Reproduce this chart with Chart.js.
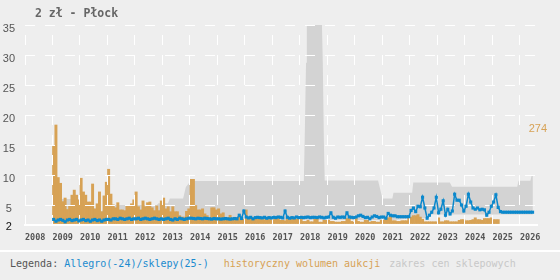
<!DOCTYPE html>
<html lang="pl">
<head>
<meta charset="utf-8">
<title>2 zł - Płock</title>
<script src="https://cdn.jsdelivr.net/npm/chart.js@4.4.1/dist/chart.umd.min.js"></script>
<style>
  html, body { margin: 0; padding: 0; background: #eeeeee; }
  #wrap { position: relative; width: 560px; height: 280px; overflow: hidden; }
  #title {
    position: absolute; left: 35px; top: 6px; line-height: 12px;
    font: bold 11.5px "DejaVu Sans Mono", monospace; color: #666;
  }
  #chartBox { position: absolute; left: 0; top: 0; width: 560px; height: 250px; }
  #legend {
    position: absolute; left: 0; top: 250px; width: 560px; height: 30px;
    border-top: 2px solid #fff; box-sizing: border-box;
    padding: 6px 0 0 10px; line-height: 16px;
    font: 10px "DejaVu Sans Mono", monospace; white-space: pre;
  }
  #legend .lab { color: #555; }
  #legend .allegro { color: #1b8bcf; }
  #legend .vol { color: #d7a255; margin-left: 15px; }
  #legend .shop { color: #c8c8c8; margin-left: 9px; }
</style>
</head>
<body>
<div id="wrap">
  <div id="chartBox"><canvas id="priceChart" width="560" height="250"></canvas></div>
  <div id="title">2 zł - Płock</div>
  <div id="legend"><span class="lab">Legenda: </span><span class="allegro">Allegro(-24)/sklepy(25-)</span><span class="vol">historyczny wolumen aukcji</span><span class="shop">zakres cen sklepowych</span></div>
</div>
<script>
const BLUE = "#0b88cc";
const ORANGE = "#d7a255";
const GRAY = "#d3d3d3";

const yearTicks = [2008, 2009, 2010, 2011, 2012, 2013, 2014, 2015, 2016, 2017,
  2018, 2019, 2020, 2021, 2022, 2023, 2024, 2025, 2026];
const priceTicks = [2, 5, 10, 15, 20, 25, 30, 35];

// monthly values, first month = January 2009
const monthlyStart = 2009;

// Allegro price (zł), Jan 2009 - Jun 2026
const allegroPrice = [
  2.6, 2.3, 2.5, 2.6, 2.45, 2.2, 2.5, 2.6, 2.4, 2.5, 2.6, 2.35,
  2.5, 2.6, 2.4, 2.5, 2.3, 2.5, 2.6, 2.4, 2.5, 2.3, 2.5, 2.6,
  2.6, 2.5, 2.7, 2.7, 2.6, 2.8, 2.7, 2.6, 2.7, 2.8, 2.6, 2.7,
  2.7, 2.8, 2.6, 2.7, 2.8, 2.7, 2.6, 2.7, 2.8, 2.7, 2.6, 2.7,
  2.6, 2.7, 2.8, 2.6, 2.5, 2.7, 2.6, 2.8, 2.7, 2.6, 2.7, 2.8,
  2.8, 2.75, 2.7, 2.8, 2.75, 2.7, 2.8, 2.75, 2.7, 2.65, 2.75, 2.7,
  2.7, 2.65, 2.7, 2.75, 2.7, 2.65, 2.7, 2.75, 2.7, 3.3, 2.75, 4.0,
  3.0, 2.85, 2.95, 2.7, 2.9, 2.95, 2.9, 2.85, 2.95, 2.8, 2.9, 2.85,
  2.95, 2.9, 3.0, 2.95, 2.85, 4.0, 2.95, 2.8, 2.9, 2.85, 3.0, 2.9,
  2.95, 2.9, 2.95, 3.0, 2.9, 2.95, 2.95, 2.9, 3.0, 2.95, 2.85, 2.95,
  3.0, 3.7, 2.95, 2.8, 3.0, 2.95, 3.0, 2.95, 3.7, 3.0, 2.95, 2.9,
  3.0, 3.2, 3.3, 3.1, 2.9, 2.95, 2.7, 3.0, 3.2, 3.1, 2.9, 3.0,
  3.0, 2.8, 3.6, 3.3, 3.2, 3.2, 3.05, 3.05, 3.05, 3.05, 3.05, 3.05,
  4.1, 4.5, 3.9, 4.8, 4.7, 6.3, 4.5, 2.8, 3.3, 3.8, 4.5, 6.3,
  3.7, 4.3, 5.7, 3.3, 4.3, 3.5, 4.0, 6.8, 5.8, 5.8, 5.0, 4.0,
  4.8, 6.8, 5.5, 4.5, 4.3, 4.5, 4.2, 4.3, 4.2, 3.3, 3.8, 4.8,
  5.5, 6.7, 4.6, 3.9, 3.8, 3.8, 3.8, 3.8, 3.8, 3.8, 3.8, 3.8,
  3.8, 3.8, 3.8, 3.8, 3.8, 3.8,
];

// auction volume per month, Jan 2009 - Mar 2025
const auctionVolume = [
  216, 274, 128, 112, 61, 71, 39, 50, 79, 93, 79, 66,
  126, 88, 79, 60, 60, 110, 41, 55, 88, 33, 77, 115,
  151, 82, 52, 44, 58, 38, 38, 36, 49, 49, 55, 66,
  88, 47, 38, 63, 47, 58, 60, 44, 36, 49, 36, 63,
  71, 41, 47, 33, 47, 33, 33, 22, 18, 18, 34, 41,
  123, 123, 50, 38, 38, 41, 27, 22, 16, 44, 44, 38,
  41, 27, 30, 16, 16, 23, 14, 16, 16, 19, 19, 12,
  38, 19, 19, 11, 14, 14, 14, 11, 11, 11, 11, 11,
  11, 14, 14, 9, 9, 8, 14, 9, 12, 12, 12, 12,
  12, 6, 6, 9, 5, 5, 12, 12, 4, 4, 9, 9,
  9, 6, 6, 4, 4, 4, 6, 6, 14, 14, 6, 4,
  14, 6, 4, 4, 9, 9, 4, 6, 6, 4, 4, 9,
  9, 16, 16, 22, 8, 8, 6, 6, 8, 8, 8, 16,
  18, 22, 22, 25, 18, 12, 5, 5, 5, 5, 5, 5,
  16, 5, 5, 8, 8, 5, 5, 5, 5, 9, 11, 11,
  8, 8, 9, 11, 16, 11, 11, 9, 14, 14, 14, 16,
  11, 11, 11,
];

// shop price range (zł): break points of the band
const shopYears = [2009.33, 2009.72, 2009.76, 2010.55, 2010.6, 2010.95, 2011.0, 2012.8,
  2012.85, 2013.2, 2013.27, 2013.75, 2013.85, 2013.95, 2014.05, 2018.14, 2018.17, 2018.22,
  2018.25, 2018.8, 2018.83, 2018.87, 2018.9, 2020.84, 2021.0, 2021.36, 2021.4, 2022.08,
  2022.12, 2022.6, 2022.65, 2023.45, 2023.53, 2025.9, 2025.95, 2026.38, 2026.43, 2026.47];
const shopLow = [2.4, 2.4, 2.4, 2.4, 2.4, 2.4, 2.4, 2.4,
  2.4, 2.4, 2.4, 2.5, 2.5, 2.5, 2.5, 2.5, 2.5, 2.5,
  2.5, 2.5, 2.5, 2.5, 2.5, 2.5, 2.5, 2.5, 2.5, 2.8,
  2.8, 2.8, 3.4, 3.4, 3.4, 3.4, 3.4, 3.4, 3.4, 3.4];
const shopHigh = [6.0, 6.0, 4.4, 4.4, 3.8, 4.2, 5.0, 5.0,
  5.3, 5.3, 6.1, 6.1, 8.0, 8.6, 9.0, 9.0, 15.5, 28.7,
  35, 35, 28.7, 15.5, 9.1, 9.1, 6.1, 6.1, 7.05, 7.05,
  8.75, 8.75, 8.75, 8.75, 8.05, 8.05, 9.05, 9.05, 10, 10];

const maxVolume = Math.max(...auctionVolume);

function monthX(i) {
  return monthlyStart + (i + 0.5) / 12;
}

const allegroPoints = allegroPrice.map((y, i) => ({ x: monthX(i), y }));
const volumePoints = auctionVolume.map((y, i) => ({ x: monthX(i), y }));
const shopLowPoints = shopYears.map((x, i) => ({ x, y: shopLow[i] }));
const shopHighPoints = shopYears.map((x, i) => ({ x, y: shopHigh[i] }));

// line above the white grid, plus the max volume label
const lineOnTop = {
  id: "lineOnTop",
  beforeDatasetDraw(chart, args) {
    if (args.index === 0) return false;
  },
  afterDraw(chart) {
    const { ctx, chartArea } = chart;
    ctx.save();
    ctx.beginPath();
    ctx.rect(chartArea.left, chartArea.top - 3, chartArea.width + 3, chartArea.height + 6);
    ctx.clip();
    chart.getDatasetMeta(0).controller.draw();
    ctx.restore();

    const yv = chart.scales.yv;
    ctx.save();
    ctx.fillStyle = ORANGE;
    ctx.font = "11px 'Liberation Sans', sans-serif";
    ctx.textAlign = "right";
    ctx.textBaseline = "middle";
    ctx.fillText(String(maxVolume), chartArea.right + 10, yv.getPixelForValue(maxVolume) + 4);
    ctx.restore();
  },
};

new Chart(document.getElementById("priceChart"), {
  type: "bar",
  data: {
    datasets: [
      {
        type: "line",
        data: allegroPoints,
        yAxisID: "y",
        borderColor: BLUE,
        borderWidth: 1.5,
        pointStyle: "rect",
        pointRadius: 2.2,
        pointBackgroundColor: BLUE,
        pointBorderWidth: 0,
        fill: false,
      },
      {
        type: "bar",
        data: volumePoints,
        yAxisID: "yv",
        backgroundColor: ORANGE,
        borderWidth: 0,
        barThickness: "flex",
        barPercentage: 1,
        categoryPercentage: 1,
      },
      {
        type: "line",
        data: shopLowPoints,
        yAxisID: "y",
        borderColor: "rgba(0,0,0,0)",
        borderWidth: 0,
        pointRadius: 0,
        fill: false,
      },
      {
        type: "line",
        data: shopHighPoints,
        yAxisID: "y",
        borderColor: "rgba(0,0,0,0)",
        borderWidth: 0,
        pointRadius: 0,
        backgroundColor: GRAY,
        fill: "-1",
      },
    ],
  },
  options: {
    responsive: false,
    animation: false,
    events: [],
    layout: { padding: { top: 25, right: 23, left: 0, bottom: 0 } },
    plugins: {
      legend: { display: false },
      tooltip: { enabled: false },
    },
    scales: {
      x: {
        type: "linear",
        min: 2008,
        max: 2026.62,
        offset: false,
        afterBuildTicks(scale) {
          scale.ticks = yearTicks.map((v) => ({ value: v }));
        },
        afterFit(scale) {
          scale.height = 25;
        },
        grid: { color: "#ffffff", lineWidth: 1, drawTicks: false, offset: false, z: 1 },
        border: { display: true, color: "#ffffff", width: 2, dash: [10, 10], dashOffset: 10, z: 1 },
        ticks: {
          align: "start",
          padding: 8,
          maxRotation: 0,
          autoSkip: false,
          color: "#555",
          font: { family: "'DejaVu Sans Mono', monospace", size: 8.5, weight: "bold" },
          callback: (v) => String(v),
        },
      },
      y: {
        type: "linear",
        position: "left",
        min: 1.67,
        max: 35,
        afterBuildTicks(scale) {
          scale.ticks = priceTicks.map((v) => ({ value: v }));
        },
        afterFit(scale) {
          scale.width = 25;
        },
        grid: {
          color: (c) => (c.tick && c.tick.value === 2 ? "rgba(0,0,0,0)" : "#ffffff"),
          lineWidth: 1,
          drawTicks: false,
          z: 1,
        },
        border: { display: false, dash: [10, 10], dashOffset: 0 },
        ticks: {
          crossAlign: "center",
          padding: 10,
          labelOffset: 4,
          color: (c) => (c.tick && c.tick.value === 2 ? "#111" : "#555"),
          font: { family: "'Liberation Sans', sans-serif", size: 11 },
          callback: (v) => String(v),
        },
      },
      yv: {
        type: "linear",
        display: false,
        min: -4,
        max: 552,
      },
    },
  },
  plugins: [lineOnTop],
});
</script>
</body>
</html>
